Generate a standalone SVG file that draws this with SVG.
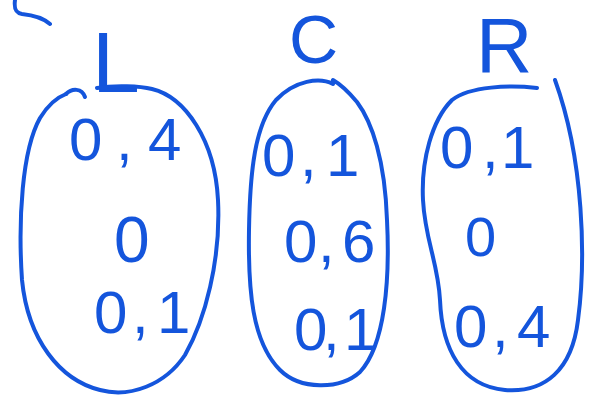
<svg xmlns="http://www.w3.org/2000/svg" width="592" height="397" viewBox="0 0 592 397">
<style>
.s{fill:none;stroke:#1455dc;stroke-width:4;stroke-linecap:round;stroke-linejoin:round}
.t{fill:#1455dc;font-family:"Liberation Sans",Arial,sans-serif;font-size:60px}
</style>
<rect width="592" height="397" fill="#fff"/>
<g id="fragment">
<path class="s" d="M15,0 C14,8 15,13 22,14 C32,15 42,17 50,24"/>
</g>
<g id="node-L">
<text class="t" x="92" y="92" style="font-size:86px">L</text>
<path class="s" d="M66,94 C72,88 82,88 85,97"/>
<path class="s" d="M97,88 C115,85 140,86 152,89 C185,97 215,140 218,200 C221,260 205,320 185,355 C165,385 130,398 100,390 C60,380 28,340 22,280 C18,220 22,150 40,118 C48,105 58,97 66,94"/>
<text class="t" x="69 116 148" y="160">0,4</text>
<text class="t" x="114" y="262" style="font-size:64px">0</text>
<text class="t" x="94 132 157" y="333">0,1</text>
</g>
<g id="node-C">
<text class="t" x="289" y="63" style="font-size:68px">C</text>
<path class="s" d="M333,84 C320,77 295,80 276,100 C255,125 250,170 249,230 C248,290 252,342 280,370 C300,390 340,390 360,372 C385,345 390,280 387,220 C385,160 372,122 357,102 C347,90 340,84 333,80"/>
<text class="t" x="262 300 326" y="176">0,1</text>
<text class="t" x="284 318 342" y="262">0,6</text>
<text class="t" x="294 323 344" y="350">0,1</text>
</g>
<g id="node-R">
<text class="t" x="476" y="72" style="font-size:78px">R</text>
<path class="s" d="M537,88 C510,85 470,86 452,100 C432,120 421,160 423,200 C425,240 438,262 440,300 C442,350 462,386 505,390 C545,393 572,370 578,320 C586,260 584,160 555,80"/>
<text class="t" x="440 482 501" y="168">0,1</text>
<text class="t" x="465" y="256" style="font-size:56px">0</text>
<text class="t" x="454 492 517" y="347">0,4</text>
</g>
<g id="connectors"></g>
</svg>
